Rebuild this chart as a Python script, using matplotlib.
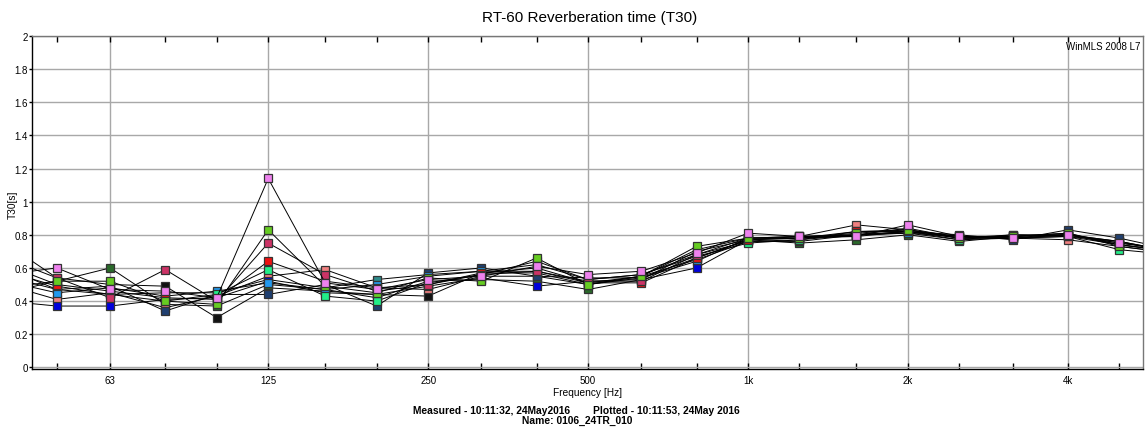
import matplotlib
matplotlib.use("Agg")
import matplotlib.pyplot as plt
import numpy as np

plt.rcParams['font.family'] = ['Liberation Sans', 'DejaVu Sans']

# third-octave band centres (with one band beyond each edge so lines run off the axes)
freqs = [40, 50, 63, 80, 100, 125, 160, 200, 250, 315, 400, 500, 630, 800,
         1000, 1250, 1600, 2000, 2500, 3150, 4000, 5000, 6300]

octave_ticks = [63, 125, 250, 500, 1000, 2000, 4000]
octave_labels = ['63', '125', '250', '500', '1k', '2k', '4k']
third_ticks = [50, 80, 100, 160, 200, 315, 400, 630, 800, 1250, 1600, 2500, 3150, 5000]
y_ticks = [0, 0.2, 0.4, 0.6, 0.8, 1.0, 1.2, 1.4, 1.6, 1.8, 2.0]
y_labels = ['0', '0.2', '0.4', '0.6', '0.8', '1', '1.2', '1.4', '1.6', '1.8', '2']

teal = [0.60, 0.47, 0.44, 0.45, 0.45, 0.53, 0.48, 0.53, 0.56, 0.58, 0.62, 0.53, 0.56, 0.68, 0.76, 0.77, 0.80, 0.82, 0.78, 0.80, 0.80, 0.74, 0.70]
black = [0.75, 0.54, 0.50, 0.49, 0.30, 0.48, 0.46, 0.44, 0.43, 0.57, 0.57, 0.50, 0.55, 0.71, 0.78, 0.78, 0.80, 0.81, 0.77, 0.78, 0.79, 0.76, 0.69]
darkgreen = [0.45, 0.52, 0.60, 0.38, 0.37, 0.50, 0.47, 0.42, 0.52, 0.53, 0.52, 0.47, 0.53, 0.70, 0.77, 0.75, 0.77, 0.80, 0.76, 0.79, 0.80, 0.76, 0.70]
salmon = [0.50, 0.41, 0.45, 0.36, 0.43, 0.55, 0.59, 0.48, 0.47, 0.55, 0.55, 0.54, 0.54, 0.64, 0.78, 0.79, 0.86, 0.83, 0.79, 0.78, 0.77, 0.73, 0.69]
blue = [0.40, 0.37, 0.37, 0.41, 0.42, 0.52, 0.45, 0.44, 0.49, 0.54, 0.49, 0.52, 0.53, 0.60, 0.77, 0.79, 0.80, 0.84, 0.78, 0.78, 0.80, 0.76, 0.70]
navy = [0.55, 0.47, 0.49, 0.34, 0.44, 0.44, 0.50, 0.37, 0.57, 0.60, 0.55, 0.50, 0.54, 0.66, 0.77, 0.78, 0.79, 0.82, 0.80, 0.77, 0.83, 0.78, 0.71]
dodger = [0.52, 0.45, 0.48, 0.43, 0.46, 0.51, 0.47, 0.50, 0.55, 0.58, 0.58, 0.51, 0.55, 0.65, 0.76, 0.76, 0.80, 0.81, 0.79, 0.79, 0.81, 0.74, 0.70]
springgreen = [0.58, 0.49, 0.44, 0.40, 0.44, 0.59, 0.43, 0.40, 0.51, 0.56, 0.64, 0.53, 0.56, 0.67, 0.75, 0.77, 0.82, 0.82, 0.77, 0.80, 0.79, 0.71, 0.68]
red = [0.62, 0.50, 0.46, 0.42, 0.41, 0.64, 0.52, 0.48, 0.50, 0.57, 0.60, 0.51, 0.51, 0.66, 0.77, 0.78, 0.82, 0.83, 0.78, 0.78, 0.79, 0.74, 0.70]
crimson = [0.66, 0.54, 0.42, 0.59, 0.40, 0.75, 0.56, 0.46, 0.50, 0.56, 0.58, 0.52, 0.52, 0.68, 0.78, 0.79, 0.80, 0.82, 0.79, 0.79, 0.80, 0.75, 0.71]
lime = [0.48, 0.52, 0.52, 0.40, 0.38, 0.83, 0.49, 0.45, 0.54, 0.52, 0.66, 0.50, 0.55, 0.73, 0.78, 0.78, 0.81, 0.83, 0.78, 0.79, 0.81, 0.73, 0.69]
pink = [0.56, 0.60, 0.47, 0.46, 0.42, 1.14, 0.51, 0.47, 0.53, 0.55, 0.61, 0.56, 0.58, 0.69, 0.81, 0.79, 0.79, 0.86, 0.79, 0.78, 0.80, 0.75, 0.71]

series = [
    (teal, '#2E8B8B'),
    (black, '#111111'),
    (darkgreen, '#2A6A2A'),
    (salmon, '#F08080'),
    (blue, '#0000DD'),
    (navy, '#1F3F70'),
    (dodger, '#2299EE'),
    (springgreen, '#22EE88'),
    (red, '#EE1111'),
    (crimson, '#CC3366'),
    (lime, '#66CC22'),
    (pink, '#EE82EE'),
]

fig = plt.figure(figsize=(11.46, 4.35), dpi=100)
ax = fig.add_axes([32/1146, (435-370)/435, (1143-32)/1146, (370-37)/435])

for vals, col in series:
    ax.plot(freqs, vals, color='black', lw=0.7, zorder=3,
            marker='s', markersize=6.0, markerfacecolor=col,
            markeredgecolor='#333333', markeredgewidth=0.9)

ax.set_xscale('log')
ax.set_xlim(44.9, 5540)
ax.set_ylim(-0.01, 2.0)

ax.set_xticks(octave_ticks)
ax.set_xticklabels(octave_labels, fontsize=7)
ax.set_xticks(third_ticks, minor=True)
ax.xaxis.set_minor_formatter(matplotlib.ticker.NullFormatter())
ax.set_yticks(y_ticks)
ax.set_yticklabels(y_labels, fontsize=7)

ax.tick_params(axis='x', which='both', direction='in', top=True, bottom=True,
               length=4, width=1, color='black', pad=4)
ax.tick_params(axis='y', which='both', direction='out', length=2, width=1,
               left=True, right=False, pad=1)

ax.grid(True, which='major', axis='both', color='#A8A8A8', lw=1)
ax.set_axisbelow(True)

for s in ['left', 'bottom']:
    ax.spines[s].set_color('black')
    ax.spines[s].set_linewidth(1)
for s in ['top', 'right']:
    ax.spines[s].set_color('#777777')
    ax.spines[s].set_linewidth(1)

ax.set_xlabel('Frequency [Hz]', fontsize=7.3, labelpad=2)
fig.text(13/1146, 1 - 205/435, 'T30[s]', rotation=90, ha='center', va='center', fontsize=7.3)

fig.text(590/1146, 1 - 18/435, 'RT-60 Reverberation time (T30)', ha='center', va='center', fontsize=11)
ax.text(0.998, 0.985, 'WinMLS 2008 L7', transform=ax.transAxes, ha='right', va='top', fontsize=7)
fig.text(576/1146, 1 - 411/435, 'Measured - 10:11:32, 24May2016        Plotted - 10:11:53, 24May 2016',
         ha='center', va='center', fontsize=7.4, fontweight='bold')
fig.text(577/1146, 1 - 421/435, 'Name: 0106_24TR_010', ha='center', va='center', fontsize=7.4, fontweight='bold')

fig.savefig('out.png', dpi=100)
